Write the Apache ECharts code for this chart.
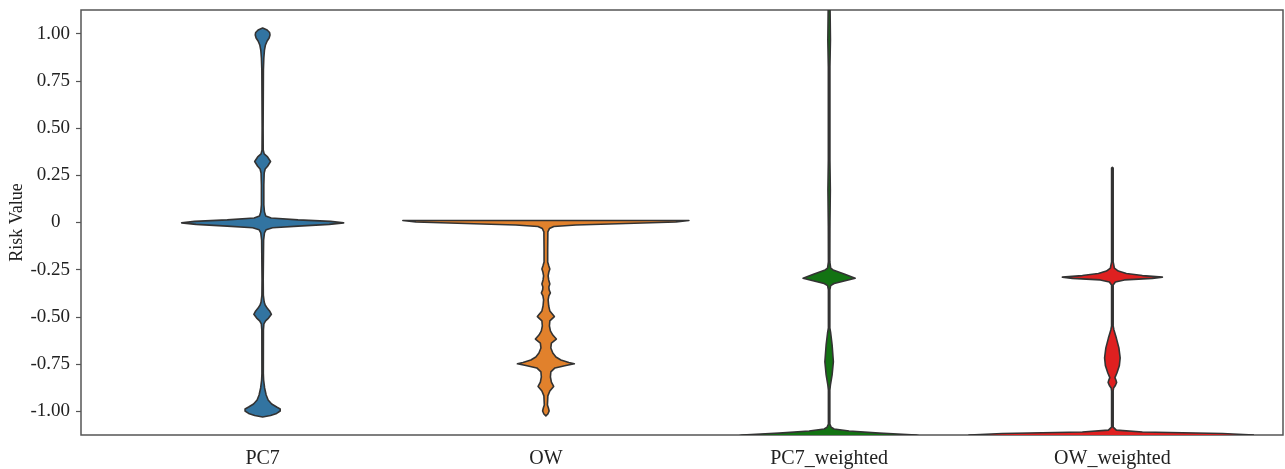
<!DOCTYPE html>
<html>
<head>
<meta charset="utf-8">
<script src="https://cdn.jsdelivr.net/npm/echarts@6/dist/echarts.min.js"></script>
<style>
html,body{margin:0;padding:0;background:#fff;}
#chart{width:1285px;height:469px;}
</style>
</head>
<body>
<div id="chart"></div>
<script>
// ---- data ----
const categories = ['PC7', 'OW', 'PC7_weighted', 'OW_weighted'];
const yTickValues = [-1, -0.75, -0.5, -0.25, 0, 0.25, 0.5, 0.75, 1];
const yAxisName = 'Risk Value';

// violin profiles: [risk value, relative density (half-width as share of half a category band)]
const pc7Profile = [[1.030,0],[1.019,0.032],[1.006,0.049],[0.993,0.052],[0.977,0.046],[0.961,0.032],[0.940,0.020],[0.913,0.013],[0.871,0.0085],[0.807,0.0056],[0.500,0.0035],[0.384,0.0042],[0.363,0.011],[0.347,0.035],[0.323,0.056],[0.298,0.035],[0.283,0.018],[0.262,0.011],[0.199,0.0085],[0.093,0.0085],[0.055,0.013],[0.035,0.022],[0.024,0.06],[0.014,0.25],[0.006,0.48],[-0.002,0.572],[-0.010,0.47],[-0.019,0.25],[-0.028,0.07],[-0.038,0.025],[-0.055,0.013],[-0.093,0.007],[-0.300,0.0042],[-0.384,0.005],[-0.421,0.011],[-0.437,0.018],[-0.453,0.032],[-0.468,0.049],[-0.486,0.062],[-0.506,0.042],[-0.521,0.021],[-0.537,0.009],[-0.569,0.0056],[-0.800,0.005],[-0.834,0.007],[-0.876,0.014],[-0.913,0.025],[-0.940,0.039],[-0.961,0.064],[-0.977,0.099],[-0.987,0.124],[-0.998,0.124],[-1.011,0.099],[-1.022,0.056],[-1.030,0]];
const owProfile = [[0.0106,1.010],[0.0026,0.918],[-0.0053,0.565],[-0.013,0.212],[-0.021,0.056],[-0.032,0.025],[-0.050,0.014],[-0.146,0.0127],[-0.209,0.0127],[-0.230,0.021],[-0.246,0.028],[-0.262,0.021],[-0.283,0.016],[-0.304,0.020],[-0.326,0.028],[-0.341,0.021],[-0.357,0.023],[-0.373,0.032],[-0.389,0.021],[-0.410,0.016],[-0.442,0.020],[-0.468,0.028],[-0.498,0.060],[-0.521,0.028],[-0.548,0.025],[-0.574,0.032],[-0.596,0.049],[-0.617,0.074],[-0.638,0.039],[-0.664,0.035],[-0.691,0.049],[-0.712,0.071],[-0.728,0.106],[-0.741,0.162],[-0.748,0.201],[-0.757,0.141],[-0.770,0.064],[-0.791,0.035],[-0.818,0.032],[-0.845,0.039],[-0.868,0.055],[-0.892,0.028],[-0.918,0.014],[-0.966,0.011],[-0.982,0.018],[-0.998,0.023],[-1.014,0.014],[-1.024,0]];
const pc7WeightedProfile = [[1.160,0.0056],[1.109,0.007],[0.966,0.0092],[0.823,0.0056],[0.331,0.0056],[0.172,0.0085],[-0.024,0.0056],[-0.209,0.005],[-0.241,0.011],[-0.251,0.028],[-0.273,0.106],[-0.295,0.184],[-0.310,0.106],[-0.323,0.035],[-0.334,0.011],[-0.357,0.005],[-0.558,0.005],[-0.585,0.011],[-0.648,0.021],[-0.737,0.030],[-0.807,0.021],[-0.860,0.0092],[-0.887,0.005],[-1.067,0.005],[-1.083,0.014],[-1.093,0.035],[-1.104,0.141],[-1.115,0.353],[-1.125,0.614],[-1.150,0.750]];
const owWeightedProfile = [[0.292,0],[0.288,0.0056],[-0.209,0.0056],[-0.241,0.014],[-0.257,0.042],[-0.270,0.099],[-0.281,0.212],[-0.289,0.353],[-0.296,0.282],[-0.304,0.085],[-0.315,0.021],[-0.331,0.0056],[-0.548,0.0056],[-0.569,0.011],[-0.612,0.028],[-0.664,0.046],[-0.717,0.055],[-0.759,0.049],[-0.797,0.032],[-0.821,0.018],[-0.834,0.025],[-0.847,0.030],[-0.863,0.021],[-0.876,0.0085],[-0.892,0.0056],[-1.083,0.0056],[-1.099,0.028],[-1.109,0.212],[-1.117,0.777],[-1.125,1.010],[-1.150,1.060]];

const profiles = [pc7Profile, owProfile, pc7WeightedProfile, owWeightedProfile];
const colors = ['#3274a1', '#e1812c', '#137313', '#df2020'];

// ---- chart ----
const FONT = '"Liberation Serif", "Times New Roman", serif';
const chart = echarts.init(document.getElementById('chart'), null, {renderer: 'canvas'});

function renderViolin(params, api) {
  const ci = api.value(0);
  const prof = profiles[ci];
  const cx = api.coord([ci, 0])[0];
  const halfBand = api.size([1, 0])[0] / 2;
  const right = [], left = [];
  for (let i = 0; i < prof.length; i++) {
    const y = api.coord([ci, prof[i][0]])[1];
    const w = prof[i][1] * halfBand;
    right.push([cx + w, y]);
    left.unshift([cx - w, y]);
  }
  return {
    type: 'polygon',
    shape: {points: right.concat(left)},
    style: {fill: colors[ci], stroke: '#333333', lineWidth: 1.6, lineJoin: 'round'}
  };
}

const option = {
  backgroundColor: '#ffffff',
  animation: false,
  grid: [
    {left: 81, right: 2, top: 10, bottom: 34, show: true, borderColor: '#555555', borderWidth: 1.5, backgroundColor: 'transparent', outerBoundsMode: 'none', containLabel: false},
    {left: 121, right: 31, top: 10, bottom: 34, show: false, outerBoundsMode: 'none', containLabel: false}
  ],
  xAxis: [
    {type: 'value', gridIndex: 0, show: false, min: 0, max: 1},
    {
      type: 'category', gridIndex: 1, data: categories,
      axisLine: {show: false},
      axisTick: {show: true, alignWithLabel: true, length: 5, lineStyle: {color: '#555555', width: 1.2}},
      axisLabel: {fontFamily: FONT, fontSize: 20, color: '#222222', margin: 14},
      splitLine: {show: false}
    }
  ],
  yAxis: [
    {
      type: 'value', gridIndex: 0, min: -1.125, max: 1.125,
      name: yAxisName, nameLocation: 'middle', nameGap: 55, nameMoveOverlap: false,
      nameTextStyle: {fontFamily: FONT, fontSize: 18, color: '#222222'},
      axisLine: {show: false},
      axisTick: {show: true, length: 5, customValues: yTickValues, lineStyle: {color: '#555555', width: 1.2}},
      axisLabel: {
        customValues: yTickValues, fontFamily: FONT, fontSize: 19, color: '#222222', margin: 11,
        formatter: function (v) { return v === 0 ? '0  ' : v.toFixed(2); }
      },
      splitLine: {show: false}
    },
    {type: 'value', gridIndex: 1, min: -1.125, max: 1.125, show: false}
  ],
  series: [{
    type: 'custom',
    xAxisIndex: 1, yAxisIndex: 1,
    clip: true,
    renderItem: renderViolin,
    encode: {x: 0, y: 1},
    data: categories.map(function (c, i) { return [i, 0]; })
  }]
};
chart.setOption(option);
</script>
</body>
</html>
